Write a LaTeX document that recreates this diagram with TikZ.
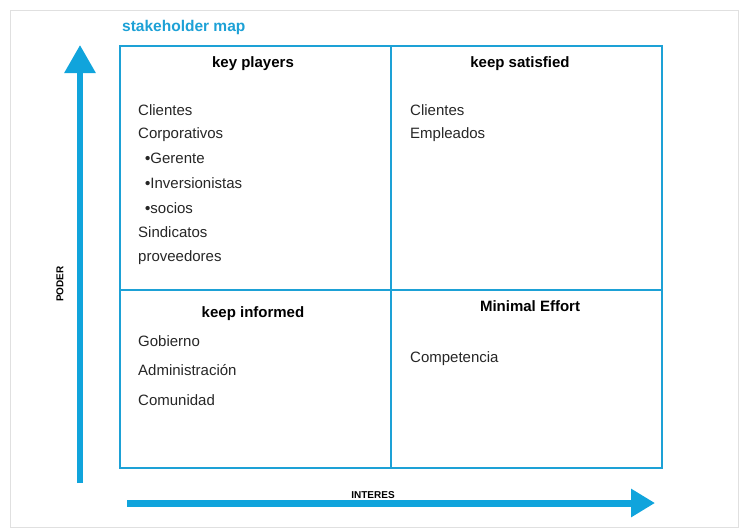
\documentclass[tikz,border=0pt]{standalone}
\usepackage{fontspec}
\setmainfont{Liberation Sans}
\usetikzlibrary{arrows.meta}
\definecolor{mapblue}{RGB}{29,161,214}
\definecolor{arrowblue}{RGB}{16,164,220}

\tikzset{
  item/.style={anchor=west,inner sep=0pt,text height=10.5pt,text depth=3pt,font=\fontsize{15}{17}\selectfont,text=black!85},
  head/.style={inner sep=0pt,text height=10.5pt,text depth=3pt,font=\bfseries\fontsize{15}{17}\selectfont},
  axislabel/.style={inner sep=0pt,font=\bfseries\fontsize{10}{11}\selectfont},
  grid/.style={draw=mapblue,line width=2.6pt},
}

\begin{document}
\begin{tikzpicture}[x=1pt,y=-1pt]
\useasboundingbox (0,0) rectangle (741,531);
\draw[black!12,line width=1pt] (10,10) rectangle (738,527);

% title
\node[anchor=west,inner sep=0pt,text=mapblue,font=\bfseries\fontsize{15.5}{17}\selectfont] (title) at (122,27) {stakeholder map};

% quadrant grid
\coordinate (nw) at (120,46);
\coordinate (se) at (662,468);
\coordinate (topmid) at (391,46);
\coordinate (botmid) at (391,468);
\coordinate (leftmid) at (120,290);
\coordinate (rightmid) at (662,290);
\draw[grid] (nw) rectangle (se);
\draw[grid] (topmid) -- (botmid);
\draw[grid] (leftmid) -- (rightmid);

% axes
\coordinate (ybot) at (80,483);
\coordinate (ytop) at (80,45);
\coordinate (xleft) at (127,503);
\coordinate (xright) at (655,503);
\draw[arrowblue,line width=6pt,-{Triangle[width=30pt,length=28pt]}] (ybot) -- (ytop);
\draw[arrowblue,line width=7pt,-{Triangle[width=27pt,length=24pt]}] (xleft) -- (xright);
\node[axislabel,rotate=90] (poder) at (60,284) {PODER};
\node[axislabel] (interes) at (373,495) {INTERES};

% key players
\node[head] (kp) at (253,64) {key players};
\node[item] (kp1) at (138,112) {Clientes};
\node[item] (kp2) at (138,135) {Corporativos};
\node[item] (kp3) at (145,160) {\textbf{•}Gerente};
\node[item] (kp4) at (145,185) {\textbf{•}Inversionistas};
\node[item] (kp5) at (145,210) {\textbf{•}socios};
\node[item] (kp6) at (138,234) {Sindicatos};
\node[item] (kp7) at (138,258) {proveedores};

% keep satisfied
\node[head] (ks) at (520,64) {keep satisfied};
\node[item] (ks1) at (410,112) {Clientes};
\node[item] (ks2) at (410,135) {Empleados};

% keep informed
\node[head] (ki) at (253,314) {keep informed};
\node[item] (ki1) at (138,343) {Gobierno};
\node[item] (ki2) at (138,372) {Administración};
\node[item] (ki3) at (138,402) {Comunidad};

% minimal effort
\node[head] (me) at (530,308) {Minimal Effort};
\node[item] (me1) at (410,359) {Competencia};
\end{tikzpicture}
\end{document}
